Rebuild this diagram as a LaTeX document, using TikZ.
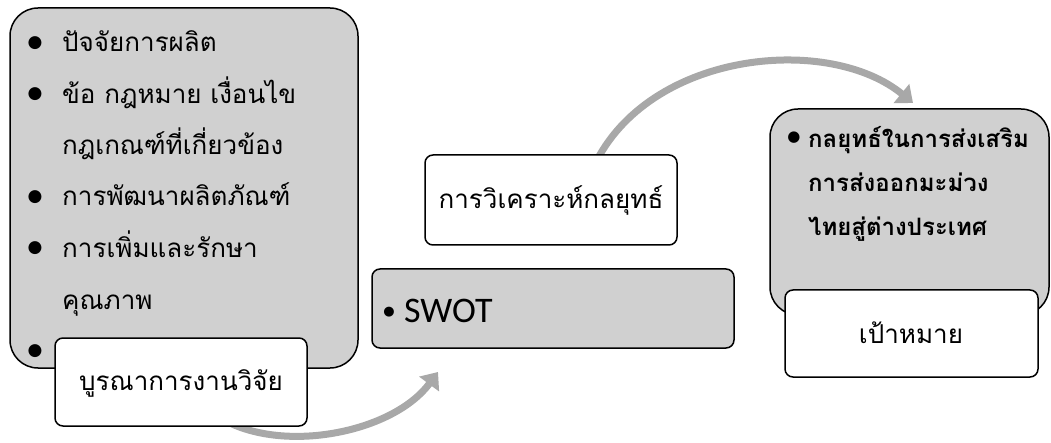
\documentclass[tikz,border=0pt]{standalone}
\usepackage{fontspec}
\usetikzlibrary{arrows.meta}
\newfontfamily\thaifont[Script=Thai]{Loma}
\newfontfamily\dejavu{DejaVu Sans}
\setsansfont{Carlito}
\definecolor{boxgray}{RGB}{208,208,208}
\definecolor{arrowgray}{RGB}{168,168,168}
\newcommand{\bigbul}{{\fontsize{17}{17}\selectfont\dejavu ●}}
\tikzset{
  panel/.style={draw=black, line width=1.5pt, fill=boxgray, rounded corners=28pt},
  flatpanel/.style={draw=black, line width=1.5pt, fill=boxgray, rounded corners=8pt},
  labelbox/.style={draw=black, line width=1.5pt, fill=white, rounded corners=8pt},
  flow/.style={draw=arrowgray, line width=7pt, -{Triangle[length=15pt,width=24pt]}},
  ltxt/.style={anchor=base west, inner sep=0pt, font=\thaifont\fontsize{26}{26}\selectfont},
  rtxt/.style={anchor=base west, inner sep=0pt, font=\thaifont\bfseries\fontsize{24}{24}\selectfont},
  bul/.style={anchor=center, inner sep=0pt},
  ctxt/.style={inner sep=0pt, font=\thaifont\fontsize{26}{26}\selectfont},
}
\begin{document}
\begin{tikzpicture}[x=1pt,y=-1pt]
\useasboundingbox (0,0) rectangle (1051,443);
% arrows (behind boxes)
\coordinate (a1s) at (232,424);
\coordinate (a1e) at (438,372);
\coordinate (a2s) at (597,160);
\coordinate (a2e) at (913,103);
\draw[flow] (a1s) .. controls (295,452) and (395,430) .. (a1e);
\draw[flow] (a2s) .. controls (655,50) and (830,35) .. (a2e);
% left panel
\path[panel] (10,8) rectangle (358,368);
\node (lb1) [bul] at (35,43) {\bigbul};
\node (lt1) [ltxt] at (62,52) {ปัจจัยการผลิต};
\node (lb2) [bul] at (35,94.5) {\bigbul};
\node (lt2) [ltxt] at (62,103.5) {ข้อ กฎหมาย เงื่อนไข};
\node (lt3) [ltxt] at (62,155) {กฎเกณฑ์ที่เกี่ยวข้อง};
\node (lb4) [bul] at (35,197) {\bigbul};
\node (lt4) [ltxt] at (62,206) {การพัฒนาผลิตภัณฑ์};
\node (lb5) [bul] at (35,248.5) {\bigbul};
\node (lt5) [ltxt] at (62,257.5) {การเพิ่มและรักษา};
\node (lt6) [ltxt] at (62,309) {คุณภาพ};
\node (lb7) [bul] at (35,351) {\bigbul};
\path[labelbox] (55,338) rectangle (307,426);
\node (l1) [ctxt] at (181,383) {บูรณาการงานวิจัย};
% middle
\path[flatpanel] (372,269) rectangle (734,348);
\node (sb) [bul] at (389,312) {{\fontsize{13}{13}\selectfont\dejavu ●}};
\node (swot) [anchor=base west, inner sep=0pt, font=\sffamily\fontsize{36}{36}\selectfont] at (404,322) {SWOT};
\path[labelbox] (425,155) rectangle (677,245);
\node (l2) [ctxt] at (551,200) {การวิเคราะห์กลยุทธ์};
% right
\path[panel] (770,109) rectangle (1049,315);
\node (rb1) [bul] at (794,138) {{\fontsize{15}{15}\selectfont\dejavu ●}};
\node (rt1) [rtxt] at (808,148) {กลยุทธ์ในการส่งเสริม};
\node (rt2) [rtxt] at (808,192) {การส่งออกมะม่วง};
\node (rt3) [rtxt] at (808,236) {ไทยสู่ต่างประเทศ};
\path[labelbox] (785,290) rectangle (1038,377);
\node (l3) [ctxt] at (911,333) {เป้าหมาย};
\end{tikzpicture}
\end{document}
